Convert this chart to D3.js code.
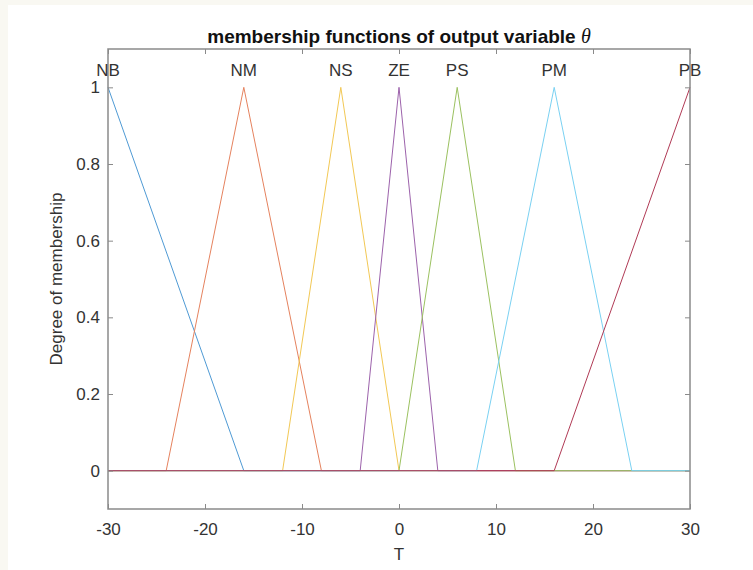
<!DOCTYPE html>
<meta charset="utf-8">
<style>
body { margin: 0; background: #f9f8f2; }
svg { display: block; }
text { font-family: "Liberation Sans", Arial, sans-serif; fill: #333; }
</style>
<svg width="753" height="570"></svg>
<script src="https://cdn.jsdelivr.net/npm/d3@7"></script>
<script>

var svg = d3.select("svg"),
    width = +svg.attr("width"),
    height = +svg.attr("height");

// membership functions (trimf params a, b, c)
var mfNames = ["NB", "NM", "NS", "ZE", "PS", "PM", "PB"];
var mfParams = [
  [-44, -30, -16],
  [-24, -16, -8],
  [-12, -6, 0],
  [-4, 0, 4],
  [0, 6, 12],
  [8, 16, 24],
  [16, 30, 44]
];
var mfColors = ["#4f9ad4", "#e5825e", "#f2c855", "#9c62ab", "#9bc160", "#7ad1f2", "#b03a55"];

var xTicks = [-30, -20, -10, 0, 10, 20, 30];
var yTicks = [0, 0.2, 0.4, 0.6, 0.8, 1];

var margin = {left: 108, right: 63, top: 49, bottom: 61};
var fontSize = 17;

// white figure area (off-white strip on left and top)
svg.append("rect")
    .attr("x", 8).attr("y", 5)
    .attr("width", width - 8).attr("height", height - 5)
    .attr("fill", "#fff");

var x = d3.scaleLinear()
    .domain([-30, 30])
    .range([margin.left, width - margin.right]);

var y = d3.scaleLinear()
    .domain([-0.1, 1.1])
    .range([height - margin.bottom, margin.top]);

function trimf(v, p) {
  var a = p[0], b = p[1], c = p[2];
  if (v === b) return 1;
  if (v <= a || v >= c) return 0;
  if (v < b) return (v - a) / (b - a);
  return (c - v) / (c - b);
}

// lines: each MF over the whole x range, break points at its vertices
mfParams.forEach(function(p, i) {
  var pts = [-30].concat(p.filter(function(v) { return v > -30 && v < 30; })).concat([30]);
  var line = d3.line()
      .x(function(d) { return x(d); })
      .y(function(d) { return y(trimf(d, p)); });
  svg.append("path")
      .datum(pts)
      .attr("fill", "none")
      .attr("stroke", mfColors[i])
      .attr("stroke-width", 1)
      .attr("d", line);
});

// axes box with inward ticks on all sides
var axisColor = "#8a8a8a";
var tickLen = 5;
var fmt = function(d) { return String(d); };

var bottomAxis = d3.axisBottom(x).tickValues(xTicks).tickSizeInner(-tickLen).tickSizeOuter(0).tickPadding(14).tickFormat(fmt);
var topAxis = d3.axisTop(x).tickValues(xTicks).tickSizeInner(-tickLen).tickSizeOuter(0).tickFormat("");
var leftAxis = d3.axisLeft(y).tickValues(yTicks).tickSizeInner(-tickLen).tickSizeOuter(0).tickPadding(8).tickFormat(fmt);
var rightAxis = d3.axisRight(y).tickValues(yTicks).tickSizeInner(-tickLen).tickSizeOuter(0).tickFormat("");

function styleAxis(g) {
  g.select(".domain").remove();
  g.selectAll("line").attr("stroke", axisColor);
  g.selectAll("text").attr("font-size", fontSize).attr("font-family", null).attr("fill", "#333");
}

svg.append("g").attr("transform", "translate(0," + y(-0.1) + ")").call(bottomAxis).call(styleAxis);
svg.append("g").attr("transform", "translate(0," + y(1.1) + ")").call(topAxis).call(styleAxis);
svg.append("g").attr("transform", "translate(" + x(-30) + ",0)").call(leftAxis).call(styleAxis);
svg.append("g").attr("transform", "translate(" + x(30) + ",0)").call(rightAxis).call(styleAxis);

svg.append("rect")
    .attr("x", x(-30)).attr("y", y(1.1))
    .attr("width", x(30) - x(-30)).attr("height", y(-0.1) - y(1.1))
    .attr("fill", "none")
    .attr("stroke", axisColor)
    .attr("stroke-width", 1.5);

// MF labels above peaks
svg.selectAll(".mflabel")
    .data(mfNames)
    .enter().append("text")
    .attr("class", "mflabel")
    .attr("x", function(d, i) { return x(Math.max(-30, Math.min(30, mfParams[i][1]))); })
    .attr("y", y(1) - 11)
    .attr("text-anchor", "middle")
    .attr("font-size", fontSize)
    .text(function(d) { return d; });

// title
var title = svg.append("text")
    .attr("x", (x(-30) + x(30)) / 2)
    .attr("y", 43)
    .attr("text-anchor", "middle")
    .attr("font-size", 19)
    .attr("font-weight", "bold")
    .style("fill", "#111");
title.append("tspan").text("membership functions of output variable ");
title.append("tspan").attr("font-family", "'Liberation Serif', serif").attr("font-style", "italic").attr("font-weight", "normal").attr("font-size", 20).text("θ");

// axis labels
svg.append("text")
    .attr("x", (x(-30) + x(30)) / 2)
    .attr("y", 560)
    .attr("text-anchor", "middle")
    .attr("font-size", fontSize)
    .text("T");

svg.append("text")
    .attr("transform", "translate(62," + (y(-0.1) + y(1.1)) / 2 + ") rotate(-90)")
    .attr("text-anchor", "middle")
    .attr("font-size", fontSize)
    .text("Degree of membership");

</script>
